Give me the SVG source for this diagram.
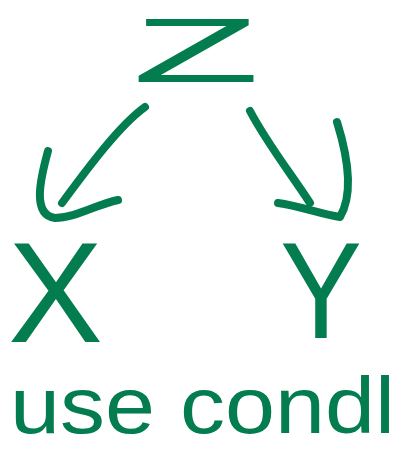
<svg xmlns="http://www.w3.org/2000/svg" width="412" height="453" viewBox="0 0 412 453">
<style>
.t{font-family:"Liberation Sans",Arial,sans-serif;fill:#037d4f}
.c{fill:none;stroke:#037d4f;stroke-width:8;stroke-linecap:round;stroke-linejoin:round}
</style>
<rect width="412" height="453" fill="#fff"/>
<g id="node-Z"><text class="t" x="132" y="82" font-size="90" textLength="128" lengthAdjust="spacingAndGlyphs">Z</text></g>
<g id="node-X"><text class="t" x="8" y="342" font-size="142" textLength="95" lengthAdjust="spacingAndGlyphs">X</text></g>
<g id="node-Y"><text class="t" x="280" y="338" font-size="137" textLength="82" lengthAdjust="spacingAndGlyphs">Y</text></g>
<g id="connectors">
<path class="c" d="M145,107 C120,125 90,165 62,203"/>
<path class="c" d="M48,151 C40,180 32,215 55,218 C75,218 95,205 118,200"/>
<path class="c" d="M250,111 C268,145 292,175 310,203"/>
<path class="c" d="M278,203 C300,206 320,214 340,217 C350,200 352,170 337,122"/>
</g>
<g id="label"><text class="t" x="10" y="433" font-size="80" textLength="385" lengthAdjust="spacingAndGlyphs">use condl</text></g>
</svg>
